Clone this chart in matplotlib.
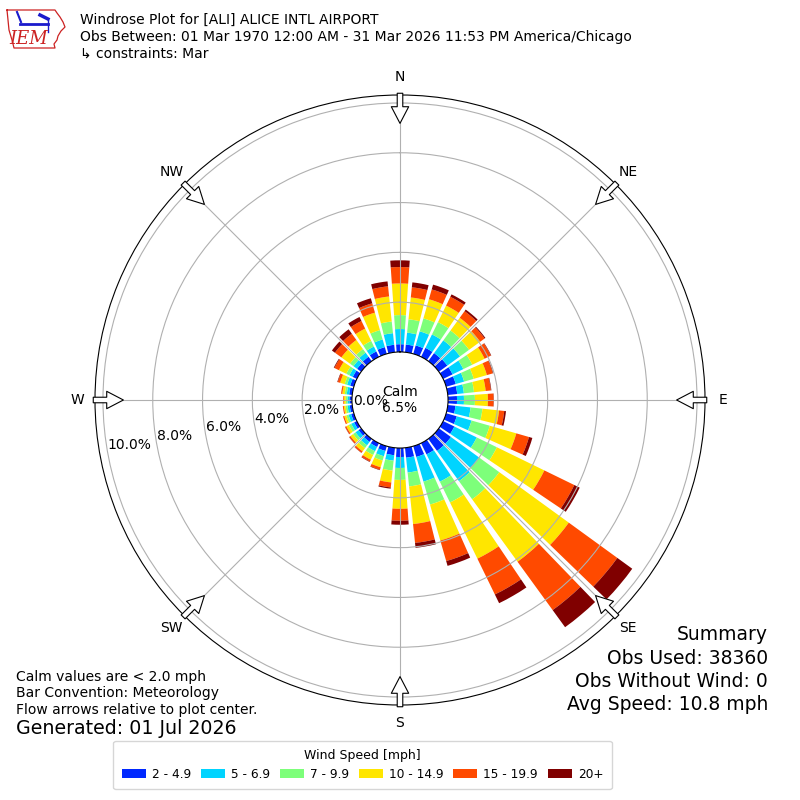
import numpy as np
import matplotlib.pyplot as plt
from matplotlib.patches import Patch

# direction bins (degrees, meteorological) and percent of obs per speed bin
directions = [0, 10, 20, 30, 40, 50, 60, 70, 80, 90, 100, 110,
              120, 130, 140, 150, 160, 170, 180, 190, 200, 210, 220, 230,
              240, 250, 260, 270, 280, 290, 300, 310, 320, 330, 340, 350]
spd_2_5 = [0.31, 0.31, 0.35, 0.40, 0.40, 0.42, 0.42, 0.40, 0.38, 0.36, 0.31, 0.44,
           0.50, 0.60, 0.60, 0.50, 0.45, 0.40, 0.36, 0.30, 0.20, 0.17, 0.15, 0.13,
           0.12, 0.11, 0.10, 0.10, 0.12, 0.15, 0.18, 0.20, 0.22, 0.24, 0.28, 0.30]
spd_5_7 = [0.61, 0.48, 0.59, 0.60, 0.63, 0.63, 0.48, 0.35, 0.27, 0.28, 0.61, 0.62,
           1.00, 1.40, 1.50, 1.22, 1.03, 0.60, 0.44, 0.22, 0.22, 0.19, 0.17, 0.15,
           0.13, 0.11, 0.09, 0.08, 0.10, 0.13, 0.15, 0.18, 0.20, 0.22, 0.32, 0.47]
spd_7_10 = [0.56, 0.54, 0.54, 0.55, 0.49, 0.45, 0.40, 0.40, 0.41, 0.44, 0.48, 0.76,
            0.90, 1.00, 0.90, 0.93, 0.96, 0.56, 0.48, 0.40, 0.18, 0.17, 0.14, 0.12,
            0.11, 0.09, 0.08, 0.07, 0.08, 0.10, 0.14, 0.17, 0.18, 0.25, 0.39, 0.47]
spd_10_15 = [1.27, 0.88, 0.80, 0.74, 0.63, 0.55, 0.55, 0.55, 0.47, 0.52, 0.67, 1.11,
             2.12, 3.45, 3.10, 2.51, 1.50, 1.52, 1.16, 0.48, 0.28, 0.21, 0.16, 0.13,
             0.11, 0.09, 0.07, 0.07, 0.10, 0.19, 0.33, 0.43, 0.45, 0.55, 0.73, 1.01]
spd_15_20 = [0.66, 0.41, 0.41, 0.39, 0.33, 0.22, 0.28, 0.25, 0.21, 0.23, 0.21, 0.53,
             1.34, 2.41, 2.40, 1.60, 0.86, 0.76, 0.48, 0.20, 0.10, 0.08, 0.07, 0.06,
             0.05, 0.05, 0.04, 0.03, 0.05, 0.10, 0.20, 0.32, 0.31, 0.34, 0.39, 0.41]
spd_20p = [0.27, 0.20, 0.20, 0.11, 0.08, 0.04, 0.02, 0.02, 0.02, 0.01, 0.07, 0.14,
           0.24, 0.74, 0.85, 0.39, 0.20, 0.20, 0.16, 0.05, 0.02, 0.02, 0.01, 0.01,
           0.01, 0.00, 0.00, 0.00, 0.00, 0.02, 0.03, 0.15, 0.22, 0.18, 0.21, 0.20]

bin_labels = ['2 - 4.9', '5 - 6.9', '7 - 9.9', '10 - 14.9', '15 - 19.9', '20+']
bin_colors = ['#0028ff', '#00d4ff', '#7dff7a', '#ffe600', '#ff4a00', '#800000']
ring_values = [0, 2, 4, 6, 8, 10]
compass_names = ['N', 'NE', 'E', 'SE', 'S', 'SW', 'W', 'NW']
compass_deg = [0, 45, 90, 135, 180, 225, 270, 315]
calm_pct = 6.5

title_lines = ['Windrose Plot for [ALI] ALICE INTL AIRPORT',
               'Obs Between: 01 Mar 1970 12:00 AM - 31 Mar 2026 11:53 PM America/Chicago',
               '\u21b3 constraints: Mar']
note_lines = ['Calm values are < 2.0 mph', 'Bar Convention: Meteorology',
              'Flow arrows relative to plot center.']
summary_lines = ['Summary', 'Obs Used: 38360', 'Obs Without Wind: 0',
                 'Avg Speed: 10.8 mph']

RORIGIN = -1.93
RMAX = 10.32

fig = plt.figure(figsize=(8, 8), dpi=100)
ax = fig.add_axes([0.11875, 0.11875, 0.7625, 0.7625], projection='polar')
ax.set_theta_zero_location('N')
ax.set_theta_direction(-1)
ax.set_rorigin(RORIGIN)
ax.set_ylim(0, RMAX)

theta = np.deg2rad(directions)
bottom = np.zeros(len(directions))
for vals, color in zip([spd_2_5, spd_5_7, spd_7_10, spd_10_15, spd_15_20, spd_20p],
                       bin_colors):
    ax.bar(theta, vals, width=np.deg2rad(8), bottom=bottom, color=color,
           linewidth=0)
    bottom += np.array(vals)

ax.set_rgrids(ring_values[1:], labels=[''] * (len(ring_values) - 1))
ax.set_thetagrids(compass_deg, labels=[''] * len(compass_deg))
ax.grid(color='#b0b0b0', lw=0.8)

for v in ring_values:
    ax.text(np.deg2rad(260), v, f'{v:.1f}%', ha='left', va='bottom', fontsize=10)

for name, d in zip(compass_names, compass_deg):
    th = np.deg2rad(d)
    ax.text(th, 11.04, name, ha='center', va='center', fontsize=10, clip_on=False)
    ax.annotate('', xy=(th, 9.18), xytext=(th, 10.39), annotation_clip=False,
                arrowprops=dict(arrowstyle='simple,head_length=1.2,head_width=1.25,tail_width=0.4',
                                fc='white', ec='black', lw=0.8, shrinkA=0, shrinkB=0,
                                mutation_scale=10))

ax.text(0.5, 0.5, f'Calm\n{calm_pct}%', transform=ax.transAxes,
        ha='center', va='center', fontsize=10)

# header
for i, line in enumerate(title_lines):
    fig.text(80 / 800, 1 - (20 + 17 * i) / 800, line, va='center', fontsize=10)

# rough IEM logo
lax = fig.add_axes([0, 1 - 52 / 800, 70 / 800, 52 / 800])
lax.set_xlim(0, 70)
lax.set_ylim(52, 0)
lax.axis('off')
iowa_x = [7, 55, 57, 60, 63, 65, 61, 58, 57, 54, 55, 14, 12, 9, 8, 7]
iowa_y = [10, 10, 13, 17, 22, 27, 31, 36, 40, 44, 48, 48, 40, 30, 20, 10]
lax.plot(iowa_x, iowa_y, color='#cc2222', lw=0.9)
lax.plot([20, 48], [24, 24], color='#1a1acc', lw=2)
lax.plot([17, 21], [12, 22], color='#1a1acc', lw=1.5)
lax.plot([40, 48], [15, 19], color='#1a1acc', lw=2.5)
lax.plot([48, 48], [20, 32], color='#1a1acc', lw=1)
lax.text(29, 39, 'IEM', color='#cc2222', fontsize=13, style='italic',
         family='DejaVu Serif', ha='center', va='center')

# notes bottom left
for i, line in enumerate(note_lines):
    fig.text(16 / 800, 1 - (677 + 16.5 * i) / 800, line, va='center', fontsize=10)
fig.text(16 / 800, 1 - 729 / 800, 'Generated: 01 Jul 2026', va='center', fontsize=13.7)

# summary bottom right
for i, line in enumerate(summary_lines):
    fig.text(768 / 800, 1 - (635 + 23.3 * i) / 800, line, ha='right', va='center',
             fontsize=13.5)

handles = [Patch(facecolor=c, edgecolor='none') for c in bin_colors]
fig.legend(handles, bin_labels, loc='lower center', bbox_to_anchor=(362.5 / 800, 11 / 800),
           ncol=6, fontsize=8.7, title='Wind Speed [mph]', title_fontsize=9,
           columnspacing=0.8, handletextpad=0.5, borderaxespad=0, borderpad=0.68)

fig.savefig('out.png', dpi=100)
